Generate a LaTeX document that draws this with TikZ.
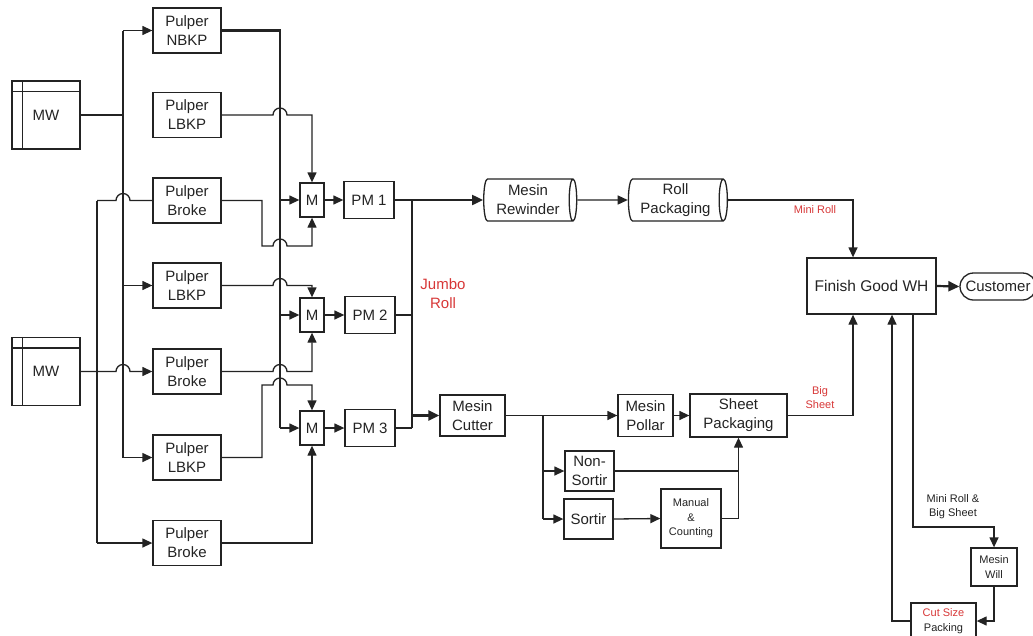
\documentclass[tikz,border=0pt]{standalone}
\usepackage{fontspec}
\setmainfont{Liberation Sans}
\usetikzlibrary{arrows.meta,calc,shapes.geometric}
\definecolor{ln}{RGB}{35,35,35}
\definecolor{lbl}{RGB}{215,55,55}
\begin{document}
\begin{tikzpicture}[x=1pt,y=-1pt,
  box/.style={draw=ln, line width=1.3pt, rectangle, inner sep=0pt, align=center,
    font=\fontsize{15}{19}\selectfont, text=ln},
  pulper/.style={box, minimum width=68pt, minimum height=45pt},
  mwbox/.style={box, minimum width=68pt, minimum height=68pt},
  mix/.style={box, minimum width=24pt, minimum height=34pt},
  pmbox/.style={box, minimum width=50pt, minimum height=37pt},
  cyl/.style={box, cylinder, shape aspect=0.25, minimum width=42pt, minimum height=93pt},
  smallbox/.style={box, font=\fontsize{11}{14.5}\selectfont},
  lbl/.style={inner sep=0pt, align=center, text=lbl},
  smalllbl/.style={lbl, font=\fontsize{11}{14}\selectfont},
  conn/.style={draw=ln, line width=1.3pt},
  arr/.style={conn, -{Triangle[length=10pt,width=9pt]}},
  heavy/.style={draw=ln, line width=2.2pt},
  harr/.style={heavy, -{Triangle[length=11pt,width=10pt]}}
]
\useasboundingbox (0,0) rectangle (1033,635);

% ---------- sources ----------
\node[mwbox] (mw1) at (46,115) {MW};
\node[mwbox] (mw2) at (46,371.5) {MW};
\foreach \m in {mw1,mw2}{
  \draw[conn] ($(\m.north west)+(11,0)$) -- ($(\m.south west)+(11,0)$);
  \draw[conn] ($(\m.north west)+(0,11)$) -- ($(\m.north east)+(0,11)$);
}

% ---------- pulpers ----------
\node[pulper] (nbkp) at (187,30.5)  {Pulper\\NBKP};
\node[pulper] (lb1)  at (187,115)   {Pulper\\LBKP};
\node[pulper] (br1)  at (187,200.5) {Pulper\\Broke};
\node[pulper] (lb2)  at (187,285.5) {Pulper\\LBKP};
\node[pulper] (br2)  at (187,371.5) {Pulper\\Broke};
\node[pulper] (lb3)  at (187,457.5) {Pulper\\LBKP};
\node[pulper] (br3)  at (187,543)   {Pulper\\Broke};

% ---------- mixers and paper machines ----------
\node[mix] (m1) at (312,200) {M};
\node[mix] (m2) at (312,315) {M};
\node[mix] (m3) at (312,428) {M};
\node[pmbox] (pm1) at (369,200) {PM 1};
\node[pmbox] (pm2) at (370,315) {PM 2};
\node[pmbox] (pm3) at (370,428) {PM 3};

% ---------- converting ----------
\node[cyl] (rew) at (528,200) {Mesin\\Rewinder};
\node[cyl, minimum height=99pt] (rp) at (675.5,200) {Roll\\Packaging};
\node[box, minimum width=65pt, minimum height=41pt] (cut) at (472.5,415.5) {Mesin\\Cutter};
\node[box, minimum width=55pt, minimum height=42pt] (pol) at (645.5,415.5) {Mesin\\Pollar};
\node[box, minimum width=97pt, minimum height=43pt] (sp) at (738.5,415.5) {Sheet\\Packaging};
\node[box, minimum width=49pt, minimum height=40pt] (ns) at (589.5,471) {Non-\\Sortir};
\node[box, minimum width=49pt, minimum height=40pt] (sor) at (588.5,519) {Sortir};
\node[smallbox, minimum width=60pt, minimum height=59pt] (man) at (691,518.5) {Manual\\\&\\Counting};
\node[box, minimum width=129pt, minimum height=56pt, font=\fontsize{15.5}{19}\selectfont] (fg) at (871.5,286) {Finish Good WH};
\node[box, minimum width=76pt, minimum height=27pt, rounded corners=13.5pt] (cust) at (998,286.5) {Customer};
\node[smallbox, minimum width=46pt, minimum height=38pt] (will) at (994,567) {Mesin\\Will};
\node[smallbox, minimum width=65pt, minimum height=36pt] (csp) at (943.5,621) {\textcolor{lbl}{Cut Size}\\Packing};

% ---------- labels ----------
\node[lbl, font=\fontsize{15}{19}\selectfont] (jr) at (443,294) {Jumbo\\Roll};
\node[smalllbl] (mr) at (815,210) {Mini Roll};
\node[smalllbl] (bs) at (820,398) {Big\\Sheet};
\node[smalllbl, text=ln] (mrbs) at (953,507) {Mini Roll \&\\Big Sheet};

% ---------- left distribution ----------
\coordinate (ax) at (123,0);
\coordinate (bx) at (97,0);
\draw[conn] (mw1.east) -- (ax|-mw1.east);
\draw[conn] (ax|-nbkp.west) -- (ax|-lb3.west);
\draw[arr] (ax|-nbkp.west) -- (nbkp.west);
\draw[arr] (ax|-lb2.west) -- (lb2.west);
\draw[arr] (ax|-lb3.west) -- (lb3.west);
\draw[conn] (bx|-br1.west) -- (bx|-br3.west);
\draw[conn] (bx|-br1.west) -- ($(ax|-br1.west)+(-7,0)$) arc[start angle=180,end angle=360,radius=7] -- (br1.west);
\draw[arr] (mw2.east) -- ($(ax|-br2.west)+(-7,0)$) arc[start angle=180,end angle=360,radius=7] -- (br2.west);
\draw[arr] (bx|-br3.west) -- (br3.west);

% ---------- pulpers to mixers ----------
\coordinate (tx) at (280,0);
\coordinate (k1) at (262,246);
\coordinate (k3) at (262,385);
\draw[heavy] (nbkp.east) -| (tx|-m3.west);
\draw[arr] (tx|-m1.west) -- (m1.west);
\draw[arr] (tx|-m2.west) -- (m2.west);
\draw[arr] (tx|-m3.west) -- (m3.west);
\draw[arr] (lb1.east) -- ($(tx|-lb1.east)+(-7,0)$) arc[start angle=180,end angle=360,radius=7] -| (m1.north);
\draw[arr] (br1.east) -| (k1) -- ($(tx|-k1)+(-7,0)$) arc[start angle=180,end angle=360,radius=7] -| (m1.south);
\draw[arr] (lb2.east) -- ($(tx|-lb2.east)+(-7,0)$) arc[start angle=180,end angle=360,radius=7] -| (m2.north);
\draw[arr] (br2.east) -- ($(tx|-br2.east)+(-7,0)$) arc[start angle=180,end angle=360,radius=7] -| (m2.south);
\draw[arr] (lb3.east) -| (k3) -- ($(tx|-k3)+(-7,0)$) arc[start angle=180,end angle=360,radius=7] -| (m3.north);
\draw[arr] (br3.east) -| (m3.south);

\draw[arr] (m1.east) -- (pm1.west);
\draw[arr] (m2.east) -- (pm2.west);
\draw[arr] (m3.east) -- (pm3.west);

% ---------- jumbo roll ----------
\coordinate (px) at (412,0);
\draw[conn] (pm1.east) -- (px|-pm1.east);
\draw[conn] (pm2.east) -- (px|-pm2.east);
\draw[conn] (pm3.east) -- (px|-pm3.east);
\draw[heavy] (px|-pm1.east) -- (px|-pm3.east);
\draw[harr] (px|-rew.west) -- (rew.west);
\draw[harr] (px|-cut.west) -- (cut.west);

% ---------- roll line ----------
\coordinate (fx1) at (853,0);
\coordinate (fx2) at (892,0);
\coordinate (fx3) at (913,0);
\coordinate (c1) at (913,527);
\draw[arr] (rew.east) -- (rp.west);
\draw[arr] (rp.east) -| (fx1|-fg.north);
\draw[harr] (fg.east) -- (cust.west);

% ---------- sheet line ----------
\coordinate (cx) at (543,0);
\draw[heavy, line width=1.8pt] (cut.east) -- (cx|-cut.east);
\draw[arr] (cx|-cut.east) -- (pol.west);
\draw[conn] (cx|-cut.east) -- (cx|-sor.west);
\draw[arr] (cx|-ns.west) -- (ns.west);
\draw[arr] (cx|-sor.west) -- (sor.west);
\draw[arr] (pol.east) -- (sp.west);
\draw[arr] (sor.east) -- (man.west);
\draw[arr] (ns.east) -| (sp.south);
\draw[conn] (man.east) -| (sp.south|-ns.east);
\draw[arr] (sp.east) -| (fx1|-fg.south);

% ---------- cut size loop ----------
\draw[arr] (fx3|-fg.south) -- (c1) -| (will.north);
\draw[arr] (will.south) |- (csp.east);
\draw[arr] (csp.west) -| (fx2|-fg.south);
\end{tikzpicture}
\end{document}
